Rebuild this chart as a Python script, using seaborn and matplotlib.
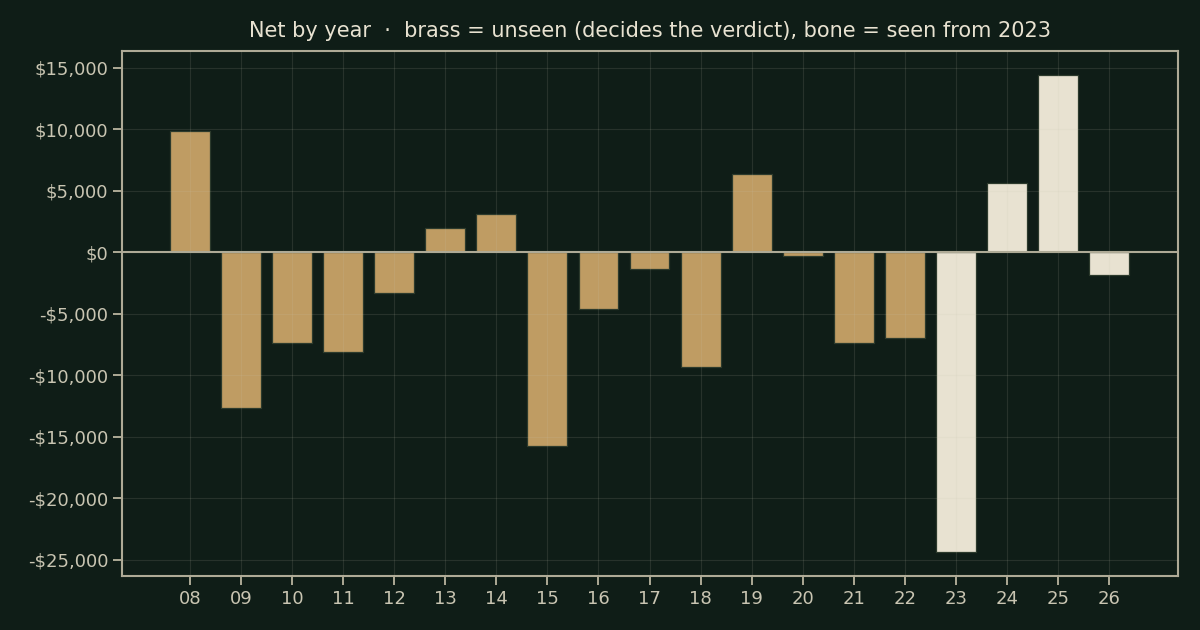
import numpy as np
import pandas as pd
import matplotlib
matplotlib.use("Agg")
import matplotlib.pyplot as plt
import seaborn as sns

# net per year, 2008-2026
years = ["08", "09", "10", "11", "12", "13", "14", "15", "16", "17",
         "18", "19", "20", "21", "22", "23", "24", "25", "26"]
net = [9850, -12700, -7420, -8150, -3340, 1980, 3120, -15800, -4650, -1380,
       -9310, 6380, -320, -7420, -6950, -24400, 5650, 14420, -1820]
group = ["unseen"] * 15 + ["seen"] * 4

bg = "#0f1d17"
brass = "#bf9c63"
bone = "#e8e2d1"
axis_col = "#aeaa96"
text_col = "#c9c5b2"

df = pd.DataFrame({"year": years, "net": net, "group": group})

sns.set_theme(style="dark")
plt.rcParams["font.family"] = ["DejaVu Sans"]

fig = plt.figure(figsize=(12, 6.3), dpi=100, facecolor=bg)
ax = fig.add_axes([0.1017, 0.0857, 0.88, 0.833])
ax.set_facecolor(bg)

sns.barplot(data=df, x="year", y="net", hue="group",
            palette={"unseen": brass, "seen": bone}, saturation=1,
            dodge=False, legend=False, width=0.78,
            edgecolor="#2c3a2c", linewidth=0.9, ax=ax)

ax.axhline(0, color=axis_col, lw=1.5, zorder=3)
ax.set_xlim(-1.33, 19.35)

ax.set_axisbelow(False)
ax.grid(True, color="#c9c5b2", alpha=0.13, lw=0.8)

ax.yaxis.set_major_formatter(
    matplotlib.ticker.FuncFormatter(lambda v, p: f"-${abs(v):,.0f}" if v < 0 else f"${v:,.0f}"))

for s in ax.spines.values():
    s.set_color(axis_col)
    s.set_linewidth(1.5)
ax.tick_params(colors=axis_col, labelcolor=text_col, labelsize=13,
               length=6.5, width=1.4, direction="out", bottom=True, left=True)
ax.set_xlabel("")
ax.set_ylabel("")
ax.set_title("Net by year  \u00b7  brass = unseen (decides the verdict), bone = seen from 2023",
             color="#e8e2d1", fontsize=15, pad=10)

fig.savefig("out.png", dpi=100, facecolor=bg)
